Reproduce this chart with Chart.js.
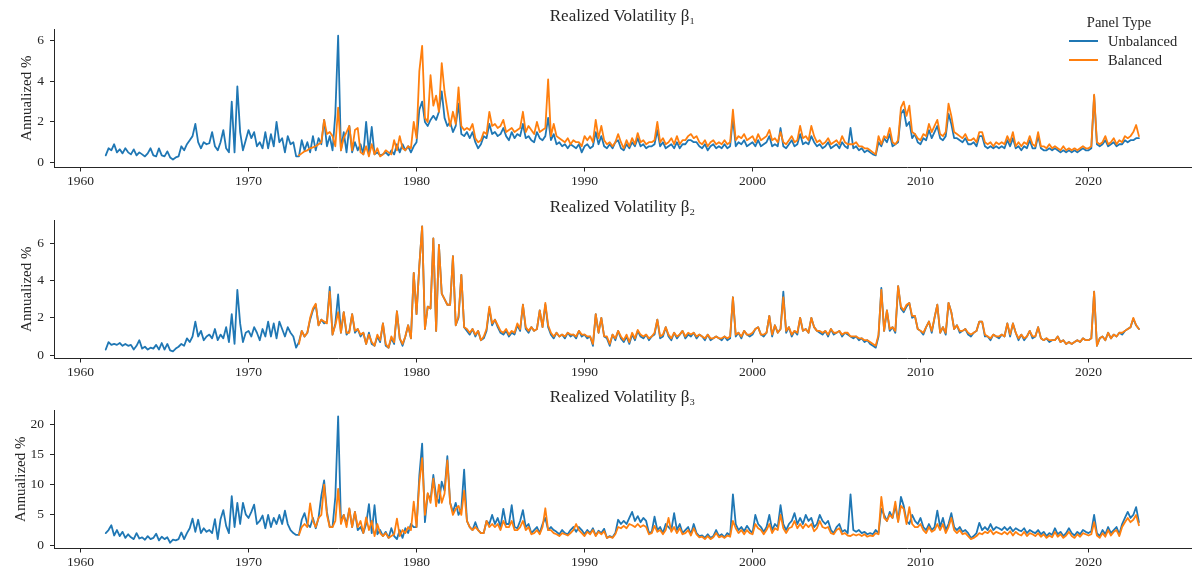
<!DOCTYPE html>
<html>
<head>
<meta charset="utf-8">
<script src="https://cdn.jsdelivr.net/npm/chart.js@4.4.0/dist/chart.umd.min.js"></script>
<style>
html,body{margin:0;padding:0;background:#fff;}
body{width:1193px;height:571px;position:relative;overflow:hidden;font-family:'Liberation Serif','DejaVu Serif',serif;color:#262626;}
.panel{position:absolute;left:0;width:1193px;height:190px;}
.panel canvas{display:block;}
.lg{position:absolute;font-size:14.5px;line-height:18px;white-space:nowrap;color:#262626;}
.sw{position:absolute;width:29px;height:0;border-top:2px solid;}
</style>
</head>
<body>
<div class="panel" style="top:0px"><canvas id="c1" width="1193" height="190"></canvas></div>
<div class="panel" style="top:191px"><canvas id="c2" width="1193" height="190"></canvas></div>
<div class="panel" style="top:381px"><canvas id="c3" width="1193" height="190"></canvas></div>

<div class="lg" style="left:1059px;top:13px;width:120px;text-align:center;">Panel Type</div>
<div class="sw" style="left:1069px;top:40px;border-color:#1f77b4;"></div>
<div class="lg" style="left:1108px;top:32px;">Unbalanced</div>
<div class="sw" style="left:1069px;top:59px;border-color:#ff7f0e;"></div>
<div class="lg" style="left:1108px;top:51px;">Balanced</div>

<script>
const seriesNames = ['Unbalanced', 'Balanced'];
const panelTitles = ['Realized Volatility β₁', 'Realized Volatility β₂', 'Realized Volatility β₃'];
const unbalancedStart = 1961.5;   // first observation (year)
const balancedStart = 1973.0;     // first observation (year)
const obsPerYear = 6;

const xTickYears = [1960, 1970, 1980, 1990, 2000, 2010, 2020];
const yTicks1 = [0, 2, 4, 6];
const yTicks2 = [0, 2, 4, 6];
const yTicks3 = [0, 5, 10, 15, 20];

const rv1Unbalanced = [
0.35,0.7,0.6,
0.9,0.5,0.65,0.45,0.7,0.5,
0.4,0.65,0.35,0.5,0.4,0.3,
0.45,0.7,0.35,0.3,0.7,0.35,
0.3,0.55,0.25,0.15,0.25,0.3,
0.8,0.6,0.9,1.1,1.3,1.9,
1.0,0.7,1.0,0.9,0.95,1.5,
0.8,0.6,1.0,1.6,0.7,0.5,
3.0,0.5,3.75,1.5,0.6,1.1,
1.6,1.2,1.5,0.8,1.0,0.7,
1.5,0.7,1.4,0.8,2.0,1.0,
1.2,0.5,1.3,0.9,1.0,0.3,
0.3,1.1,0.6,1.0,0.5,1.3,
0.6,1.2,0.9,2.1,0.8,1.3,
0.6,2.4,6.25,0.6,1.5,0.5,
1.8,0.5,1.0,0.6,0.9,0.4,
2.0,0.5,1.75,0.4,0.5,0.35,
0.4,0.5,0.35,0.6,0.4,0.9,
0.5,0.9,0.6,0.8,0.5,0.8,
1.0,2.6,3.0,2.0,1.8,2.1,
2.3,2.1,2.5,3.5,2.2,1.8,
2.0,1.5,1.8,2.9,1.4,1.3,
1.5,1.2,1.5,1.0,0.7,0.9,
1.3,1.2,1.9,1.4,1.5,1.3,
1.4,1.7,1.3,1.1,1.5,1.2,
1.4,1.3,1.9,1.2,1.3,1.1,
1.0,1.5,1.2,1.1,1.3,2.2,
1.1,1.4,0.9,1.0,0.8,0.9,
0.7,0.9,0.8,0.7,0.9,0.5,
0.8,0.9,0.7,0.8,1.5,0.9,
1.3,0.8,0.7,0.9,0.7,1.0,
1.1,0.7,0.6,0.9,0.7,1.0,
0.8,1.2,0.8,0.9,0.7,0.8,
0.8,0.9,1.6,0.8,1.0,0.7,
0.8,0.9,0.7,1.0,0.7,0.9,
0.9,1.1,1.1,1.0,1.0,0.8,
0.7,0.9,0.6,0.8,0.9,0.7,
0.8,0.7,0.9,0.7,0.8,2.2,
0.8,1.0,0.9,1.1,0.8,0.9,
1.0,0.8,1.1,0.8,0.9,1.0,
1.3,0.8,0.9,0.8,1.7,0.8,
0.7,0.9,1.1,0.8,0.9,1.4,
0.9,1.0,0.9,1.3,1.0,0.8,
0.9,0.7,0.8,1.0,0.7,0.8,
0.9,0.7,1.0,0.8,0.7,1.7,
0.7,0.8,0.6,0.7,0.5,0.6,
0.5,0.4,0.35,1.0,0.8,1.2,
1.0,1.4,0.8,0.9,1.0,2.4,
2.6,1.8,2.0,1.2,1.4,1.0,
0.9,1.2,1.1,1.6,1.2,1.5,
1.8,1.2,1.1,1.3,2.4,1.9,
1.2,1.2,1.1,1.0,1.2,0.9,
0.9,1.0,0.8,1.3,1.3,0.8,
0.7,0.8,0.7,0.8,0.7,0.8,
0.7,1.1,0.8,1.2,0.7,0.8,
0.6,0.8,0.7,1.1,0.7,0.7,
1.3,0.7,0.6,0.6,0.7,0.6,
0.7,0.6,0.5,0.6,0.5,0.6,
0.5,0.6,0.5,0.6,0.7,0.6,
0.6,0.7,3.3,0.9,0.8,0.9,
1.1,0.8,0.9,1.0,0.8,0.9,
0.9,1.1,1.0,1.1,1.1,1.2,
1.2
];
const rv1Balanced = [
0.35,0.45,0.55,0.6,0.7,0.75,
0.8,0.9,1.0,2.1,1.4,1.5,
1.3,0.8,2.7,0.6,1.2,1.5,
1.8,0.6,1.6,1.7,0.5,0.4,
0.8,0.3,0.9,0.4,0.7,0.3,
0.4,0.6,0.5,0.4,1.1,0.6,
1.3,0.7,0.6,0.8,0.7,2.0,
1.2,4.5,5.75,2.2,2.0,4.3,
2.8,3.3,2.5,4.9,3.5,2.6,
1.8,2.5,1.9,3.7,1.8,1.6,
1.7,1.6,1.9,1.2,1.0,1.1,
1.5,1.4,2.5,1.8,1.9,1.7,
1.8,2.1,1.5,1.6,1.7,1.5,
1.6,1.7,2.5,1.5,1.8,1.6,
1.4,2.0,1.5,1.6,1.7,4.1,
1.3,1.9,1.3,1.2,1.1,1.0,
1.2,0.9,1.1,1.0,1.0,0.8,
1.3,1.1,1.3,1.0,2.1,1.2,
1.8,1.1,0.9,1.0,0.8,1.0,
1.4,1.0,0.7,1.1,0.8,1.2,
0.9,1.45,1.0,1.1,0.9,1.0,
1.0,1.1,2.0,1.0,1.2,0.9,
1.0,1.2,0.9,1.3,0.9,1.1,
1.1,1.3,1.4,1.2,1.3,1.0,
0.9,1.1,0.8,1.0,1.1,0.9,
1.0,0.9,1.1,0.9,1.0,2.6,
1.1,1.3,1.2,1.4,1.1,1.2,
1.3,1.0,1.4,1.1,1.2,1.3,
1.6,1.1,1.2,1.0,1.5,1.0,
0.9,1.1,1.3,1.0,1.1,1.8,
1.2,1.3,1.1,1.8,1.3,1.0,
1.1,0.9,1.0,1.2,0.9,1.0,
1.1,0.9,1.3,1.0,0.9,0.9,
0.9,1.0,0.8,0.8,0.7,0.7,
0.6,0.5,0.4,1.3,0.9,1.3,
1.2,1.7,1.0,0.9,1.1,2.7,
3.0,2.3,2.8,1.5,1.4,1.2,
1.1,1.4,1.3,1.9,1.5,1.8,
2.1,1.4,1.3,1.5,2.9,2.3,
1.5,1.4,1.3,1.2,1.4,1.1,
1.1,1.2,1.0,1.5,1.5,1.0,
0.9,1.0,0.8,1.0,0.9,1.0,
0.9,1.3,1.0,1.5,0.8,1.0,
0.8,1.0,0.9,1.3,0.9,0.8,
1.5,0.8,0.8,0.7,0.9,0.7,
0.8,0.7,0.6,0.8,0.6,0.7,
0.6,0.7,0.6,0.7,0.8,0.7,
0.7,0.8,3.35,1.0,0.9,1.0,
1.3,0.9,1.0,1.2,0.9,1.1,
1.0,1.3,1.2,1.3,1.5,1.85,
1.3
];

const rv2Unbalanced = [
0.3,0.7,0.55,
0.6,0.55,0.65,0.5,0.6,0.5,
0.55,0.3,0.5,0.8,0.35,0.45,
0.3,0.4,0.35,0.55,0.3,0.65,
0.3,0.6,0.25,0.2,0.35,0.45,
0.6,0.5,0.9,0.7,1.0,1.8,
1.0,1.3,0.8,1.0,1.1,0.9,
1.4,0.8,1.1,0.9,1.5,0.7,
2.2,0.6,3.5,1.7,0.7,1.2,
1.3,1.0,1.5,1.2,0.8,1.4,
1.0,1.8,1.0,1.7,0.9,1.8,
1.4,1.0,1.5,1.2,1.0,0.4,
0.7,1.3,1.0,1.2,1.9,2.4,
2.7,1.6,1.9,1.7,1.8,3.65,
1.1,1.7,3.25,1.2,2.3,1.1,
1.3,2.2,1.2,1.4,1.0,1.2,
0.6,1.2,0.6,0.5,1.0,0.7,
1.7,0.5,0.4,0.9,0.6,2.35,
0.9,0.5,1.0,1.6,0.9,4.4,
2.2,4.8,6.9,1.4,2.6,2.5,
6.25,1.3,5.9,3.3,3.0,2.7,
2.7,5.3,1.6,2.0,4.3,1.5,
1.3,1.1,1.4,1.0,1.3,0.8,
0.9,1.3,2.5,1.6,1.9,1.5,
1.2,1.1,1.3,1.0,1.2,1.1,
1.6,1.3,2.7,1.4,1.2,1.5,
1.3,1.4,2.4,1.5,2.7,1.5,
1.1,0.9,1.2,1.0,1.1,0.9,
1.2,1.0,1.1,0.9,1.3,1.0,
1.1,0.9,1.0,0.5,2.2,1.2,
2.0,1.0,0.9,0.5,1.1,0.8,
1.3,0.9,0.7,1.0,0.6,1.1,
0.8,1.3,1.0,0.9,1.1,0.8,
1.0,1.1,1.9,0.9,1.0,1.5,
1.0,0.8,1.2,0.9,1.1,1.3,
0.9,1.1,1.0,1.2,0.9,1.1,
1.0,0.8,1.1,0.8,0.9,1.0,
0.9,0.8,1.0,0.8,0.9,3.1,
1.0,1.2,0.9,1.3,1.1,1.0,
1.1,1.4,1.5,1.1,1.0,1.2,
2.1,1.0,1.6,1.2,1.4,3.4,
1.2,1.5,1.0,1.3,1.1,2.0,
1.3,1.4,1.2,2.0,1.5,1.3,
1.2,1.1,1.3,1.0,1.4,1.1,
1.2,1.3,1.0,1.2,1.1,1.0,
0.9,1.0,0.8,0.9,0.7,0.8,
0.6,0.5,0.4,1.0,3.6,1.3,
2.4,1.3,1.5,1.2,3.7,2.5,
2.3,2.6,2.8,2.0,2.1,1.4,
1.3,1.1,1.5,1.8,1.2,2.0,
2.7,1.2,1.5,1.1,2.8,2.3,
1.4,1.6,1.2,1.3,1.4,1.1,
1.0,1.2,1.3,1.8,1.8,1.0,
1.0,0.8,1.1,1.0,0.9,1.1,
1.0,1.7,1.0,1.7,1.2,0.8,
1.1,0.8,1.0,1.3,0.9,1.0,
1.5,0.9,0.8,0.9,0.7,0.8,
0.8,1.0,0.7,0.8,0.6,0.7,
0.6,0.7,0.8,0.7,0.9,0.8,
0.8,0.9,3.4,0.5,0.9,1.0,
0.8,1.2,0.9,1.1,1.0,1.2,
1.1,1.3,1.4,1.5,1.95,1.6,
1.4
];
const rv2Balanced = [
0.6,1.3,1.0,1.2,2.0,2.5,
2.75,1.6,1.9,1.8,1.7,3.4,
1.1,1.6,2.3,1.2,2.3,1.2,
1.2,2.2,1.3,1.4,1.1,1.2,
0.6,1.1,0.7,0.5,1.1,0.8,
1.7,0.6,0.4,1.0,0.7,2.35,
0.9,0.6,1.0,1.6,0.9,4.4,
2.2,4.8,6.9,1.4,2.6,2.5,
6.25,1.3,5.9,3.3,3.0,2.7,
2.7,5.3,1.6,2.1,4.3,1.5,
1.4,1.2,1.4,1.1,1.3,0.8,
1.0,1.4,2.6,1.7,1.9,1.6,
1.3,1.2,1.4,1.1,1.3,1.2,
1.7,1.4,2.7,1.5,1.3,1.5,
1.3,1.4,2.4,1.5,2.8,1.6,
1.2,1.0,1.2,1.0,1.1,1.0,
1.2,1.1,1.1,1.0,1.3,1.1,
1.1,1.0,1.0,0.6,2.2,1.2,
2.0,1.0,1.0,0.6,1.1,0.9,
1.3,1.0,0.8,1.1,0.7,1.2,
0.9,1.35,1.1,1.0,1.1,0.9,
1.0,1.2,1.9,1.0,1.1,1.5,
1.1,0.9,1.2,1.0,1.1,1.3,
1.0,1.2,1.1,1.2,1.0,1.1,
1.0,0.9,1.1,0.9,0.9,1.0,
0.9,0.9,1.0,0.9,1.0,3.1,
1.1,1.2,1.0,1.3,1.1,1.1,
1.2,1.4,1.5,1.1,1.1,1.2,
2.1,1.1,1.6,1.2,1.4,3.1,
1.3,1.5,1.1,1.3,1.2,2.0,
1.3,1.4,1.2,2.0,1.5,1.3,
1.3,1.2,1.3,1.1,1.4,1.2,
1.2,1.3,1.1,1.2,1.2,1.0,
1.0,1.0,0.9,0.9,0.8,0.8,
0.7,0.6,0.5,1.1,3.5,1.3,
2.4,1.4,1.5,1.3,3.7,2.6,
2.4,2.7,2.8,2.1,2.1,1.4,
1.3,1.2,1.5,1.8,1.3,2.0,
2.7,1.2,1.5,1.2,2.8,2.3,
1.4,1.6,1.3,1.3,1.4,1.2,
1.1,1.2,1.3,1.8,1.8,1.1,
1.0,0.9,1.1,1.0,1.0,1.1,
1.0,1.7,1.1,1.7,1.2,0.9,
1.1,0.9,1.0,1.3,1.0,1.0,
1.5,0.9,0.8,0.9,0.8,0.8,
0.8,1.0,0.7,0.8,0.6,0.7,
0.6,0.7,0.8,0.7,0.9,0.8,
0.8,0.9,3.4,0.5,0.9,1.0,
0.8,1.2,0.9,1.1,1.0,1.2,
1.2,1.3,1.4,1.5,2.0,1.6,
1.4
];

const rv3Unbalanced = [
2.0,2.5,3.3,
1.6,2.5,1.5,2.2,1.2,1.8,
1.3,1.0,2.0,1.1,1.3,0.9,
1.5,1.0,1.2,1.9,0.8,1.4,
1.0,1.3,0.4,0.9,0.8,1.0,
2.1,1.0,2.0,2.8,4.4,2.2,
4.2,2.0,2.8,2.2,2.5,2.0,
4.3,1.0,4.3,5.8,3.2,2.0,
8.1,3.0,7.0,3.5,7.0,5.1,
4.5,5.5,6.7,3.5,4.0,4.9,
2.8,5.0,3.0,4.5,3.5,5.0,
3.5,5.7,3.5,2.5,2.0,1.7,
1.7,4.2,5.3,3.5,3.0,4.5,
2.8,4.5,8.2,10.7,5.5,3.0,
3.0,8.0,21.3,4.0,5.0,3.5,
6.0,3.0,5.5,2.5,3.0,2.0,
3.5,6.8,2.0,6.6,1.8,2.5,
1.5,2.2,1.2,2.8,1.5,1.0,
2.5,1.2,2.8,2.0,3.5,3.0,
3.0,11.5,16.8,3.8,8.5,7.5,
11.6,8.0,7.0,10.5,9.0,14.7,
7.0,5.5,7.0,5.0,6.0,12.5,
4.0,3.0,2.5,3.8,2.5,2.0,
2.0,4.0,3.5,5.0,3.5,4.5,
3.0,6.0,3.5,3.5,6.6,3.0,
2.8,4.0,5.8,3.0,3.5,2.0,
2.5,3.0,2.0,3.5,4.5,2.5,
3.0,2.5,2.2,1.8,2.5,2.0,
1.8,2.5,3.0,2.2,3.0,2.5,
1.8,2.5,2.0,2.8,1.6,2.4,
2.0,2.7,1.2,1.5,1.3,2.0,
4.2,3.5,4.0,3.5,4.5,5.5,
4.0,4.8,3.8,4.5,4.0,2.0,
2.2,4.7,2.5,3.0,2.0,3.5,
3.0,2.5,5.3,2.5,3.5,2.0,
2.5,3.0,1.8,3.5,2.0,1.5,
1.6,1.2,1.8,1.2,1.5,2.5,
1.5,1.8,1.3,2.0,1.6,8.4,
3.5,2.5,3.0,2.3,3.2,2.5,
2.0,5.0,3.5,3.0,2.2,3.0,
5.0,2.5,3.5,3.0,6.6,3.5,
2.5,3.5,4.0,5.3,3.5,4.5,
3.5,5.0,4.0,4.5,3.0,3.5,
5.0,4.0,3.5,4.0,2.5,2.0,
3.0,3.5,2.2,2.5,2.0,8.4,
2.5,2.2,2.5,2.0,2.2,1.8,
2.0,1.8,2.5,2.0,6.0,5.0,
4.0,5.5,4.5,6.5,4.0,8.0,
6.5,4.0,3.5,5.0,4.0,3.5,
4.5,3.0,2.5,3.5,2.5,3.0,
5.7,3.0,4.5,2.5,3.5,5.3,
3.0,2.5,3.0,2.2,2.5,2.0,
1.2,1.5,2.0,3.7,2.5,3.0,
2.5,3.5,2.5,3.0,2.8,2.5,
3.0,2.5,3.0,2.3,2.8,2.5,
2.3,2.8,2.0,2.5,2.2,2.0,
2.5,1.8,2.2,1.5,2.0,1.7,
2.8,1.8,2.2,1.5,2.0,2.8,
2.0,1.6,2.2,1.8,2.5,2.2,
2.0,2.3,5.0,2.0,1.5,2.5,
1.8,3.0,2.0,2.5,3.0,1.8,
3.5,4.5,5.5,4.5,5.0,6.3,
3.8
];
const rv3Balanced = [
1.7,3.0,3.5,3.0,6.9,4.0,
3.0,4.5,5.0,10.0,5.0,3.0,
3.0,4.0,9.3,3.5,5.0,3.0,
6.1,3.0,5.5,3.0,4.0,2.0,
4.6,2.5,4.0,1.5,3.5,2.0,
1.5,2.0,1.2,1.5,1.8,4.4,
1.5,2.5,2.0,3.0,2.5,7.2,
3.0,10.3,14.4,5.0,8.6,7.0,
11.0,6.4,10.0,7.0,8.5,14.0,
7.0,5.0,6.0,6.5,5.0,9.0,
4.0,3.0,2.5,3.0,2.5,2.0,
2.0,4.0,3.0,3.5,3.0,3.5,
2.5,4.0,3.0,3.0,4.0,2.5,
2.5,3.0,4.0,2.5,3.0,1.8,
2.0,2.5,1.8,3.0,6.1,2.5,
2.5,2.0,1.8,1.5,2.0,1.8,
1.6,2.0,2.5,3.5,2.5,2.0,
1.5,2.2,1.8,2.5,1.5,2.2,
1.8,2.3,1.2,1.4,1.2,1.8,
3.0,2.8,3.2,2.8,3.5,3.3,
3.0,3.5,3.0,3.3,3.0,1.8,
2.0,3.2,2.2,2.5,1.8,2.5,
4.5,2.2,3.0,2.0,2.8,1.8,
2.0,2.5,1.6,2.8,1.8,1.3,
1.4,1.0,1.5,1.0,1.3,2.0,
1.3,1.5,1.2,1.6,1.4,4.0,
2.8,2.0,2.5,1.8,2.5,2.0,
1.8,3.5,2.8,2.5,1.8,2.5,
3.5,2.0,2.8,2.5,5.0,2.8,
2.0,2.8,3.0,4.0,2.8,3.5,
2.8,3.5,3.0,3.5,2.3,2.8,
4.0,3.0,2.8,3.0,2.0,1.8,
2.5,2.8,1.8,2.0,1.6,1.5,
1.8,1.6,1.8,1.5,1.8,1.4,
1.6,1.5,2.0,1.8,8.0,4.5,
4.0,5.0,4.5,7.2,3.8,6.5,
6.0,3.5,6.3,3.5,3.0,3.0,
3.5,2.5,2.0,3.0,2.2,2.5,
3.5,2.5,3.5,2.0,3.0,4.5,
2.5,2.0,2.5,1.8,2.0,1.5,
1.0,1.2,1.5,2.0,1.8,2.2,
2.0,2.5,1.8,2.2,2.0,1.8,
2.2,1.8,2.3,1.6,2.2,1.8,
1.6,2.2,1.5,2.0,1.8,1.5,
2.0,1.4,1.8,1.2,1.6,1.3,
2.2,1.4,1.8,1.2,1.6,2.2,
1.5,1.2,1.8,1.4,2.0,1.8,
1.6,1.8,3.8,1.6,1.2,2.0,
1.4,2.5,1.6,2.2,2.5,1.5,
3.0,3.8,4.5,3.8,4.2,5.0,
3.3
];

// ---- styling / rendering ----
const BLUE = '#1f77b4';
const ORANGE = '#ff7f0e';
const INK = '#262626';
const SERIF = "'Liberation Serif', 'DejaVu Serif', serif";
Chart.defaults.font.family = SERIF;
Chart.defaults.color = INK;

function toPoints(start, values) {
  return values.map((v, i) => ({ x: start + i / obsPerYear, y: v }));
}

function axisCommon() {
  return {
    grid: { display: true, drawOnChartArea: false, drawTicks: true, tickLength: 4, color: INK, lineWidth: 1 },
    border: { display: true, color: INK, width: 1 }
  };
}

function makePanel(id, titleText, unbal, bal, yMin, yMax, yTicks, yTitlePad) {
  const xc = axisCommon(), yc = axisCommon();
  return new Chart(document.getElementById(id), {
    type: 'line',
    data: {
      datasets: [
        { label: seriesNames[0], data: toPoints(unbalancedStart, unbal), borderColor: BLUE, backgroundColor: BLUE, order: 2 },
        { label: seriesNames[1], data: toPoints(balancedStart, bal), borderColor: ORANGE, backgroundColor: ORANGE, order: 1 }
      ]
    },
    options: {
      responsive: false,
      animation: false,
      devicePixelRatio: 1,
      parsing: false,
      layout: { padding: { top: 0, left: 0, right: 2, bottom: 0 } },
      elements: {
        point: { radius: 0, hoverRadius: 0 },
        line: { borderWidth: 1.8, tension: 0, borderJoinStyle: 'round', borderCapStyle: 'round', fill: false }
      },
      plugins: {
        legend: { display: false },
        tooltip: { enabled: false },
        title: {
          display: true, text: titleText, color: INK, fullSize: false,
          font: { size: 17, family: SERIF, weight: 'normal' },
          padding: { top: 6.5, bottom: 2.1 }
        }
      },
      scales: {
        x: {
          type: 'linear', min: 1958.42, max: 2026.1,
          afterBuildTicks: s => { s.ticks = xTickYears.map(v => ({ value: v })); },
          afterFit: s => { s.height = 22.5; },
          grid: xc.grid, border: xc.border,
          ticks: { autoSkip: false, maxRotation: 0, padding: 2, color: INK, font: { size: 13.5 }, callback: v => String(v) }
        },
        y: {
          type: 'linear', min: yMin, max: yMax,
          afterBuildTicks: s => { s.ticks = yTicks.map(v => ({ value: v })); },
          afterFit: s => { s.width = 54; },
          grid: yc.grid, border: yc.border,
          title: { display: true, text: 'Annualized %', color: INK, font: { size: 15 }, padding: { top: yTitlePad, bottom: 0 } },
          ticks: { padding: 6, color: INK, font: { size: 13.5 }, callback: v => String(v) }
        }
      }
    }
  });
}

makePanel('c1', panelTitles[0], rv1Unbalanced, rv1Balanced, -0.246, 6.58, yTicks1, 18);
makePanel('c2', panelTitles[1], rv2Unbalanced, rv2Balanced, -0.18, 7.24, yTicks2, 18);
makePanel('c3', panelTitles[2], rv3Unbalanced, rv3Balanced, -0.55, 22.35, yTicks3, 12);
</script>
</body>
</html>
